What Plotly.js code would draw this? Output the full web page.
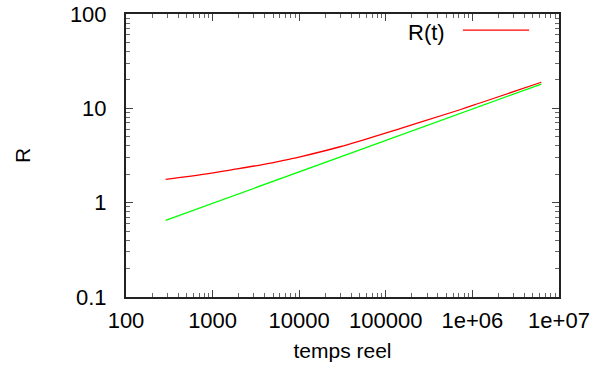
<!DOCTYPE html>
<html>
<head>
<meta charset="utf-8">
<script src="https://cdn.plot.ly/plotly-3.0.1.min.js"></script>
<style>
html,body{margin:0;padding:0;background:#fff;}
#chart{width:599px;height:368px;}
</style>
</head>
<body>
<div id="chart"></div>
<script>
// Data
var redT = [287, 933, 1589, 3527, 7830, 10210, 29580, 145900, 719400, 1224000, 6250000];
var redR = [1.767, 2.045, 2.217, 2.505, 2.90, 3.06, 3.915, 6.11, 9.66, 11.39, 18.9];
var greenT = [287, 29580, 6250000];
var greenR = [0.649, 3.04, 18.1];

var xTickVals = [100, 1000, 10000, 100000, 1000000, 10000000];
var xTickText = ["100", "1000", "10000", "100000", "1e+06", "1e+07"];
var yTickVals = [0.1, 1, 10, 100];
var yTickText = ["0.1", "1", "10", "100"];
var legendName = "R(t)";
var xTitle = "temps reel";
var yTitle = "R";

function minorVals(lo, hi) {
  var out = [];
  for (var e = lo; e < hi; e++) {
    for (var k = 2; k <= 9; k++) out.push(k * Math.pow(10, e));
  }
  return out;
}

var FONT = "Liberation Sans, Arial, sans-serif";
var FS = 22;

var traces = [
  {x: redT, y: redR, type: 'scatter', mode: 'lines', name: legendName,
   line: {color: '#ff0000', width: 1.3, shape: 'spline', smoothing: 1}, showlegend: false},
  {x: greenT, y: greenR, type: 'scatter', mode: 'lines', name: 'fit',
   line: {color: '#00ff00', width: 1.3}, showlegend: false}
];

var axisCommon = {
  type: 'log',
  showgrid: false,
  zeroline: false,
  showline: true,
  linecolor: '#222',
  linewidth: 2,
  mirror: 'allticks',
  ticks: 'inside',
  ticklen: 7,
  tickwidth: 1,
  tickcolor: '#444',
  tickmode: 'array',
  tickfont: {family: FONT, size: FS, color: '#000'}
};

var layout = {
  width: 599, height: 368,
  margin: {l: 126, r: 40, t: 14, b: 71, pad: 0},
  paper_bgcolor: '#fff', plot_bgcolor: '#fff',
  showlegend: false,
  xaxis: Object.assign({}, axisCommon, {
    range: [2, 7],
    tickvals: xTickVals, ticktext: xTickText,
    ticklabelstandoff: 3,
    minor: {tickmode: 'array', tickvals: minorVals(2, 7), ticks: 'inside', ticklen: 4, tickcolor: '#666', tickwidth: 1},
    title: {text: xTitle, font: {family: FONT, size: 21, color: '#000'}, standoff: 11}
  }),
  yaxis: Object.assign({}, axisCommon, {
    range: [-1, 2],
    tickvals: yTickVals, ticktext: yTickText,
    ticklabelstandoff: 13,
    minor: {tickmode: 'array', tickvals: minorVals(-1, 2), ticks: 'inside', ticklen: 4, tickcolor: '#666', tickwidth: 1},
    title: {text: yTitle, font: {family: FONT, size: 21, color: '#000'}, standoff: 34}
  }),
  annotations: [
    {xref: 'paper', yref: 'paper', x: 0.741, y: 0.936, xanchor: 'right', yanchor: 'middle',
     text: legendName, showarrow: false, font: {family: FONT, size: FS, color: '#000'}}
  ],
  shapes: [
    {type: 'line', xref: 'paper', yref: 'paper', x0: 0.778, x1: 0.931, y0: 0.943, y1: 0.943,
     line: {color: '#ff0000', width: 1.3}}
  ]
};

Plotly.newPlot('chart', traces, layout, {staticPlot: true, displayModeBar: false});
</script>
</body>
</html>
